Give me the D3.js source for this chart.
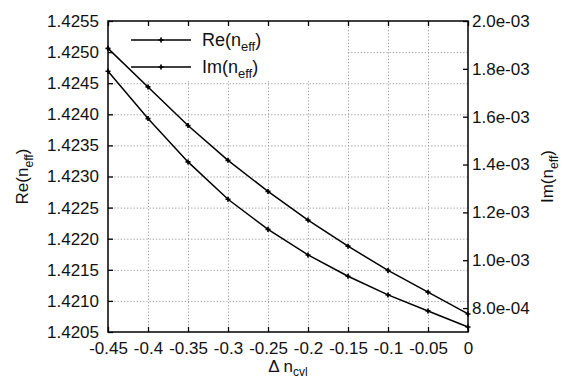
<!DOCTYPE html>
<html>
<head>
<meta charset="utf-8">
<script src="https://cdn.jsdelivr.net/npm/d3@7"></script>
<style>
  body { margin: 0; background: #fff; }
  text { font-family: "Liberation Sans", Arial, Helvetica, sans-serif; fill: #111; }
  .grid line { stroke: #999; stroke-dasharray: 1.2, 2; stroke-width: 1; }
  .grid path { display: none; }
</style>
</head>
<body>
<script>
// cladding index shift
var dn = [-0.45, -0.4, -0.35, -0.3, -0.25, -0.2, -0.15, -0.1, -0.05, 0];
// real part of effective index (left axis)
var reN = [1.42506, 1.42444, 1.42382, 1.42326, 1.42276, 1.42230, 1.42188, 1.42149, 1.42114, 1.42079];
// imaginary part of effective index (right axis)
var imN = [1.790e-3, 1.592e-3, 1.411e-3, 1.255e-3, 1.129e-3, 1.022e-3, 0.933e-3, 0.855e-3, 0.788e-3, 0.721e-3];

var xTicks = [-0.45, -0.4, -0.35, -0.3, -0.25, -0.2, -0.15, -0.1, -0.05, 0];
var yLeftTicks = [1.4205, 1.4210, 1.4215, 1.4220, 1.4225, 1.4230, 1.4235, 1.4240, 1.4245, 1.4250, 1.4255];
var yRightTicks = [8e-4, 1.0e-3, 1.2e-3, 1.4e-3, 1.6e-3, 1.8e-3, 2.0e-3];

var width = 567, height = 379;
var m = {left: 108, right: 99, top: 21, bottom: 47};
var w = width - m.left - m.right, h = height - m.top - m.bottom;

var svg = d3.select("body").append("svg")
    .attr("width", width)
    .attr("height", height);

var g = svg.append("g").attr("transform", "translate(" + m.left + "," + m.top + ")");

var x = d3.scaleLinear().domain([-0.45, 0]).range([0, w]);
var yL = d3.scaleLinear().domain([1.4205, 1.4255]).range([h, 0]);
var yR = d3.scaleLinear().domain([7e-4, 2e-3]).range([h, 0]);

function fmtE(v) {
  var s = v.toExponential(1).split("e");
  var e = +s[1];
  return s[0] + "e" + (e < 0 ? "-" : "+") + (Math.abs(e) < 10 ? "0" : "") + Math.abs(e);
}
function fmtX(v) { return String(+v.toFixed(2)); }

// dotted grid
g.append("g").attr("class", "grid")
    .attr("transform", "translate(0," + h + ")")
    .call(d3.axisBottom(x).tickValues(xTicks.slice(1, -1)).tickSize(-h).tickFormat(""));
g.append("g").attr("class", "grid")
    .call(d3.axisLeft(yL).tickValues(yLeftTicks.slice(1, -1)).tickSize(-w).tickFormat(""));

// opaque key box
g.append("rect")
    .attr("x", 0).attr("y", 0)
    .attr("width", x(-0.15) - 2).attr("height", yL(1.4245) - 2)
    .attr("fill", "#fff");

// axes, ticks pointing inward
function styleAxis(sel, size) {
  sel.select(".domain").remove();
  sel.selectAll(".tick line").attr("stroke", "#000").attr("stroke-width", 1.3);
  sel.selectAll(".tick text").attr("font-size", size).attr("fill", "#111");
}
g.append("g")
    .attr("transform", "translate(0," + h + ")")
    .call(d3.axisBottom(x).tickValues(xTicks).tickSize(-5).tickPadding(10).tickFormat(fmtX))
    .call(styleAxis, 17);
g.append("g")
    .call(d3.axisTop(x).tickValues(xTicks).tickSize(-5).tickFormat(""))
    .call(styleAxis, 17);
g.append("g")
    .call(d3.axisLeft(yL).tickValues(yLeftTicks).tickSize(-5).tickPadding(9).tickFormat(d3.format(".4f")))
    .call(styleAxis, 17);
g.append("g")
    .attr("transform", "translate(" + w + ",0)")
    .call(d3.axisRight(yR).tickValues(yRightTicks).tickSize(-5).tickPadding(4).tickFormat(fmtE))
    .call(styleAxis, 17);

g.append("rect")
    .attr("width", w).attr("height", h)
    .attr("fill", "none").attr("stroke", "#000").attr("stroke-width", 1.5);

// axis titles with subscripts
function subLabel(sel, main, sub, size) {
  sel.append("tspan").text(main + "(n");
  sel.append("tspan").attr("dy", size * 0.3).attr("font-size", size * 0.72).text(sub);
  sel.append("tspan").attr("dy", -size * 0.3).text(")");
}
svg.append("text")
    .attr("transform", "translate(28," + (m.top + h / 2) + ") rotate(-90)")
    .attr("text-anchor", "middle").attr("font-size", 17)
    .call(subLabel, "Re", "eff", 17);
svg.append("text")
    .attr("transform", "translate(553," + (m.top + h / 2) + ") rotate(-90)")
    .attr("text-anchor", "middle").attr("font-size", 17)
    .call(subLabel, "Im", "eff", 17);

var xl = svg.append("text")
    .attr("x", m.left + w / 2).attr("y", 372)
    .attr("text-anchor", "middle").attr("font-size", 17);
xl.append("tspan").text("\u0394 n");
xl.append("tspan").attr("dy", 4).attr("font-size", 12).text("cvl");

// key
var keys = ["Re", "Im"];
var keyY = [40, 67];
keys.forEach(function(k, i) {
  g.append("line")
      .attr("x1", 131 - m.left).attr("x2", 191 - m.left)
      .attr("y1", keyY[i] - m.top).attr("y2", keyY[i] - m.top)
      .attr("stroke", "#000").attr("stroke-width", 1.5);
  g.append("path")
      .attr("d", d3.symbol(d3.symbolCross, 14)())
      .attr("transform", "translate(" + (161 - m.left) + "," + (keyY[i] - m.top) + ")")
      .attr("fill", "#000");
  g.append("text")
      .attr("x", 202 - m.left).attr("y", keyY[i] - m.top + 6)
      .attr("font-size", 18)
      .call(subLabel, k, "eff", 18);
});

// curves
var series = [
  {vals: reN, y: yL},
  {vals: imN, y: yR}
];
series.forEach(function(s) {
  var pts = dn.map(function(d, i) { return [x(d), s.y(s.vals[i])]; });
  g.append("path")
      .attr("d", d3.line()(pts))
      .attr("fill", "none")
      .attr("stroke", "#000")
      .attr("stroke-width", 1.5);
  g.selectAll(null)
      .data(pts)
      .enter().append("path")
      .attr("d", d3.symbol(d3.symbolCross, 14)())
      .attr("transform", function(p) { return "translate(" + p[0] + "," + p[1] + ")"; })
      .attr("fill", "#000");
});
</script>
</body>
</html>
